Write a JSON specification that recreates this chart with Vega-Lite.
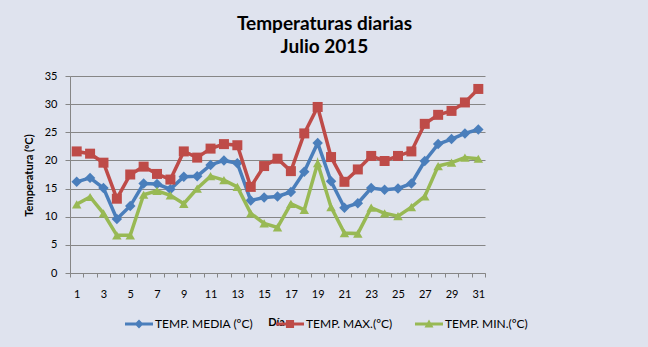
{
  "$schema": "https://vega.github.io/schema/vega-lite/v6.json",
  "width": 415,
  "height": 197,
  "autosize": {"type": "none"},
  "padding": {"left": 70, "top": 76, "right": 163, "bottom": 74},
  "background": "#dfe3ee",
  "config": {"view": {"stroke": null}, "font": "Lato"},
  "title": {
    "text": ["Temperaturas diarias", "Julio 2015"],
    "font": "Lato",
    "fontSize": 19,
    "fontWeight": "bold",
    "color": "#000000",
    "anchor": "middle",
    "frame": "group",
    "dx": 47,
    "offset": 13,
    "lineHeight": 23
  },
  "data": {
    "values": [
      {"dia": 1, "serie": "TEMP. MEDIA (ºC)", "temp": 16.2},
      {"dia": 2, "serie": "TEMP. MEDIA (ºC)", "temp": 16.9},
      {"dia": 3, "serie": "TEMP. MEDIA (ºC)", "temp": 15.1},
      {"dia": 4, "serie": "TEMP. MEDIA (ºC)", "temp": 9.6},
      {"dia": 5, "serie": "TEMP. MEDIA (ºC)", "temp": 11.9},
      {"dia": 6, "serie": "TEMP. MEDIA (ºC)", "temp": 15.9},
      {"dia": 7, "serie": "TEMP. MEDIA (ºC)", "temp": 15.8},
      {"dia": 8, "serie": "TEMP. MEDIA (ºC)", "temp": 14.9},
      {"dia": 9, "serie": "TEMP. MEDIA (ºC)", "temp": 17.1},
      {"dia": 10, "serie": "TEMP. MEDIA (ºC)", "temp": 17.2},
      {"dia": 11, "serie": "TEMP. MEDIA (ºC)", "temp": 19.2},
      {"dia": 12, "serie": "TEMP. MEDIA (ºC)", "temp": 20.0},
      {"dia": 13, "serie": "TEMP. MEDIA (ºC)", "temp": 19.5},
      {"dia": 14, "serie": "TEMP. MEDIA (ºC)", "temp": 12.9},
      {"dia": 15, "serie": "TEMP. MEDIA (ºC)", "temp": 13.4},
      {"dia": 16, "serie": "TEMP. MEDIA (ºC)", "temp": 13.6},
      {"dia": 17, "serie": "TEMP. MEDIA (ºC)", "temp": 14.4},
      {"dia": 18, "serie": "TEMP. MEDIA (ºC)", "temp": 18.0},
      {"dia": 19, "serie": "TEMP. MEDIA (ºC)", "temp": 23.1},
      {"dia": 20, "serie": "TEMP. MEDIA (ºC)", "temp": 16.3},
      {"dia": 21, "serie": "TEMP. MEDIA (ºC)", "temp": 11.6},
      {"dia": 22, "serie": "TEMP. MEDIA (ºC)", "temp": 12.4},
      {"dia": 23, "serie": "TEMP. MEDIA (ºC)", "temp": 15.1},
      {"dia": 24, "serie": "TEMP. MEDIA (ºC)", "temp": 14.8},
      {"dia": 25, "serie": "TEMP. MEDIA (ºC)", "temp": 15.0},
      {"dia": 26, "serie": "TEMP. MEDIA (ºC)", "temp": 15.9},
      {"dia": 27, "serie": "TEMP. MEDIA (ºC)", "temp": 19.9},
      {"dia": 28, "serie": "TEMP. MEDIA (ºC)", "temp": 22.9},
      {"dia": 29, "serie": "TEMP. MEDIA (ºC)", "temp": 23.8},
      {"dia": 30, "serie": "TEMP. MEDIA (ºC)", "temp": 24.8},
      {"dia": 31, "serie": "TEMP. MEDIA (ºC)", "temp": 25.5},
      {"dia": 1, "serie": "TEMP. MAX.(ºC)", "temp": 21.6},
      {"dia": 2, "serie": "TEMP. MAX.(ºC)", "temp": 21.2},
      {"dia": 3, "serie": "TEMP. MAX.(ºC)", "temp": 19.6},
      {"dia": 4, "serie": "TEMP. MAX.(ºC)", "temp": 13.2},
      {"dia": 5, "serie": "TEMP. MAX.(ºC)", "temp": 17.5},
      {"dia": 6, "serie": "TEMP. MAX.(ºC)", "temp": 18.9},
      {"dia": 7, "serie": "TEMP. MAX.(ºC)", "temp": 17.6},
      {"dia": 8, "serie": "TEMP. MAX.(ºC)", "temp": 16.6},
      {"dia": 9, "serie": "TEMP. MAX.(ºC)", "temp": 21.6},
      {"dia": 10, "serie": "TEMP. MAX.(ºC)", "temp": 20.5},
      {"dia": 11, "serie": "TEMP. MAX.(ºC)", "temp": 22.1},
      {"dia": 12, "serie": "TEMP. MAX.(ºC)", "temp": 22.9},
      {"dia": 13, "serie": "TEMP. MAX.(ºC)", "temp": 22.7},
      {"dia": 14, "serie": "TEMP. MAX.(ºC)", "temp": 15.3},
      {"dia": 15, "serie": "TEMP. MAX.(ºC)", "temp": 19.0},
      {"dia": 16, "serie": "TEMP. MAX.(ºC)", "temp": 20.3},
      {"dia": 17, "serie": "TEMP. MAX.(ºC)", "temp": 18.1},
      {"dia": 18, "serie": "TEMP. MAX.(ºC)", "temp": 24.8},
      {"dia": 19, "serie": "TEMP. MAX.(ºC)", "temp": 29.5},
      {"dia": 20, "serie": "TEMP. MAX.(ºC)", "temp": 20.6},
      {"dia": 21, "serie": "TEMP. MAX.(ºC)", "temp": 16.2},
      {"dia": 22, "serie": "TEMP. MAX.(ºC)", "temp": 18.4},
      {"dia": 23, "serie": "TEMP. MAX.(ºC)", "temp": 20.8},
      {"dia": 24, "serie": "TEMP. MAX.(ºC)", "temp": 19.9},
      {"dia": 25, "serie": "TEMP. MAX.(ºC)", "temp": 20.8},
      {"dia": 26, "serie": "TEMP. MAX.(ºC)", "temp": 21.6},
      {"dia": 27, "serie": "TEMP. MAX.(ºC)", "temp": 26.5},
      {"dia": 28, "serie": "TEMP. MAX.(ºC)", "temp": 28.1},
      {"dia": 29, "serie": "TEMP. MAX.(ºC)", "temp": 28.8},
      {"dia": 30, "serie": "TEMP. MAX.(ºC)", "temp": 30.3},
      {"dia": 31, "serie": "TEMP. MAX.(ºC)", "temp": 32.7},
      {"dia": 1, "serie": "TEMP. MIN.(ºC)", "temp": 12.2},
      {"dia": 2, "serie": "TEMP. MIN.(ºC)", "temp": 13.5},
      {"dia": 3, "serie": "TEMP. MIN.(ºC)", "temp": 10.6},
      {"dia": 4, "serie": "TEMP. MIN.(ºC)", "temp": 6.7},
      {"dia": 5, "serie": "TEMP. MIN.(ºC)", "temp": 6.7},
      {"dia": 6, "serie": "TEMP. MIN.(ºC)", "temp": 13.9},
      {"dia": 7, "serie": "TEMP. MIN.(ºC)", "temp": 14.6},
      {"dia": 8, "serie": "TEMP. MIN.(ºC)", "temp": 13.8},
      {"dia": 9, "serie": "TEMP. MIN.(ºC)", "temp": 12.3},
      {"dia": 10, "serie": "TEMP. MIN.(ºC)", "temp": 15.0},
      {"dia": 11, "serie": "TEMP. MIN.(ºC)", "temp": 17.2},
      {"dia": 12, "serie": "TEMP. MIN.(ºC)", "temp": 16.5},
      {"dia": 13, "serie": "TEMP. MIN.(ºC)", "temp": 15.3},
      {"dia": 14, "serie": "TEMP. MIN.(ºC)", "temp": 10.6},
      {"dia": 15, "serie": "TEMP. MIN.(ºC)", "temp": 8.8},
      {"dia": 16, "serie": "TEMP. MIN.(ºC)", "temp": 8.1},
      {"dia": 17, "serie": "TEMP. MIN.(ºC)", "temp": 12.3},
      {"dia": 18, "serie": "TEMP. MIN.(ºC)", "temp": 11.2},
      {"dia": 19, "serie": "TEMP. MIN.(ºC)", "temp": 19.5},
      {"dia": 20, "serie": "TEMP. MIN.(ºC)", "temp": 11.7},
      {"dia": 21, "serie": "TEMP. MIN.(ºC)", "temp": 7.1},
      {"dia": 22, "serie": "TEMP. MIN.(ºC)", "temp": 7.0},
      {"dia": 23, "serie": "TEMP. MIN.(ºC)", "temp": 11.6},
      {"dia": 24, "serie": "TEMP. MIN.(ºC)", "temp": 10.6},
      {"dia": 25, "serie": "TEMP. MIN.(ºC)", "temp": 10.1},
      {"dia": 26, "serie": "TEMP. MIN.(ºC)", "temp": 11.7},
      {"dia": 27, "serie": "TEMP. MIN.(ºC)", "temp": 13.6},
      {"dia": 28, "serie": "TEMP. MIN.(ºC)", "temp": 19.0},
      {"dia": 29, "serie": "TEMP. MIN.(ºC)", "temp": 19.6},
      {"dia": 30, "serie": "TEMP. MIN.(ºC)", "temp": 20.5},
      {"dia": 31, "serie": "TEMP. MIN.(ºC)", "temp": 20.3}
    ]
  },
  "encoding": {
    "x": {
      "field": "dia",
      "type": "ordinal",
      "scale": {"type": "band", "paddingInner": 0, "paddingOuter": 0},
      "axis": {
        "labelAngle": 0,
        "labelExpr": "datum.value % 2 == 1 ? datum.label : ''",
        "labelFont": "Lato",
        "labelFontSize": 11,
        "labelColor": "#000000",
        "labelPadding": 11,
        "tickBand": "extent",
        "tickSize": 4,
        "tickColor": "#868686",
        "domainColor": "#868686",
        "grid": false,
        "title": "Día",
        "titleFont": "Lato",
        "titleFontSize": 11,
        "titleFontWeight": "bold",
        "titleColor": "#000000",
        "titleX": 206,
        "titleY": 52,
        "titleBaseline": "alphabetic",
        "titleAlign": "center"
      }
    },
    "y": {
      "field": "temp",
      "type": "quantitative",
      "scale": {"domain": [0, 35], "nice": false, "zero": true},
      "axis": {
        "values": [0, 5, 10, 15, 20, 25, 30, 35],
        "labelFont": "Lato",
        "labelFontSize": 11,
        "labelColor": "#000000",
        "labelPadding": 8,
        "tickSize": 5,
        "tickColor": "#868686",
        "domainColor": "#868686",
        "grid": true,
        "gridColor": "#868686",
        "gridWidth": 1,
        "title": "Temperatura (ºC)",
        "titleFont": "Lato",
        "titleFontSize": 11,
        "titleFontWeight": "bold",
        "titleColor": "#000000",
        "titleAngle": 270,
        "titleX": -38,
        "titleY": 99,
        "titleBaseline": "alphabetic",
        "titleAlign": "center"
      }
    }
  },
  "layer": [
    {
      "transform": [{"filter": "datum.serie == 'TEMP. MEDIA (ºC)'"}],
      "mark": {"type": "line", "strokeWidth": 3.5, "color": "#4a7ebb", "point": {"shape": "diamond", "filled": true, "size": 110, "color": "#4a7ebb"}}
    },
    {
      "transform": [{"filter": "datum.serie == 'TEMP. MAX.(ºC)'"}],
      "mark": {"type": "line", "strokeWidth": 3.5, "color": "#be4b48", "point": {"shape": "square", "filled": true, "size": 100, "color": "#be4b48"}}
    },
    {
      "transform": [{"filter": "datum.serie == 'TEMP. MIN.(ºC)'"}],
      "mark": {"type": "line", "strokeWidth": 3.5, "color": "#98b954", "point": {"shape": "triangle-up", "filled": true, "size": 90, "color": "#98b954"}}
    },
    {
      "mark": {"type": "point", "filled": true, "size": 0},
      "encoding": {
        "color": {
          "field": "serie",
          "type": "nominal",
          "scale": {
            "domain": ["TEMP. MEDIA (ºC)", "TEMP. MAX.(ºC)", "TEMP. MIN.(ºC)"],
            "range": ["#4a7ebb", "#be4b48", "#98b954"]
          },
          "legend": {
            "orient": "none",
            "legendX": 55,
            "legendY": 234,
            "direction": "horizontal",
            "title": null,
            "padding": 0,
            "symbolSize": 784,
            "symbolOpacity": 1,
            "symbolStrokeWidth": 0,
            "labelFont": "Lato",
            "labelFontSize": 12,
            "labelColor": "#000000",
            "labelOffset": 2,
            "columnPadding": 22,
            "labelLimit": 200
          }
        },
        "shape": {
          "field": "serie",
          "type": "nominal",
          "scale": {
            "domain": ["TEMP. MEDIA (ºC)", "TEMP. MAX.(ºC)", "TEMP. MIN.(ºC)"],
            "range": [
              "M-1,-0.11L-0.21,-0.11L0,-0.32L0.21,-0.11L1,-0.11L1,0.11L0.21,0.11L0,0.32L-0.21,0.11L-1,0.11Z",
              "M-1,-0.11L-0.29,-0.11L-0.29,-0.29L0.29,-0.29L0.29,-0.11L1,-0.11L1,0.11L0.29,0.11L0.29,0.29L-0.29,0.29L-0.29,0.11L-1,0.11Z",
              "M-1,-0.11L-0.12,-0.11L0,-0.32L0.12,-0.11L1,-0.11L1,0.11L0.24,0.11L0.32,0.25L-0.32,0.25L-0.24,0.11L-1,0.11Z"
            ]
          },
          "legend": {
            "orient": "none",
            "legendX": 55,
            "legendY": 234,
            "direction": "horizontal",
            "title": null,
            "padding": 0,
            "symbolSize": 784,
            "symbolOpacity": 1,
            "symbolStrokeWidth": 0,
            "labelFont": "Lato",
            "labelFontSize": 12,
            "labelColor": "#000000",
            "labelOffset": 2,
            "columnPadding": 22,
            "labelLimit": 200
          }
        }
      }
    }
  ]
}
